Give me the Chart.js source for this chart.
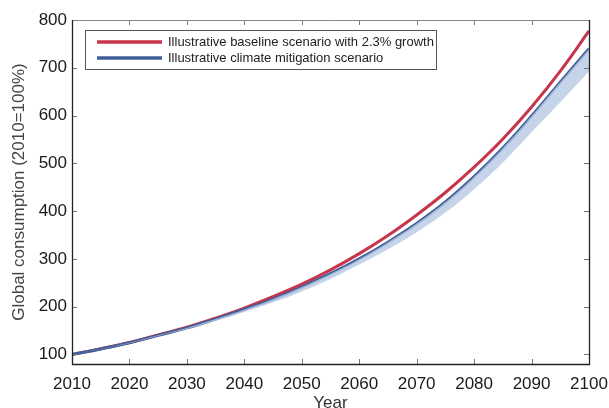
<!DOCTYPE html>
<html>
<head>
<meta charset="utf-8">
<script src="https://cdn.jsdelivr.net/npm/chart.js@4.4.1/dist/chart.umd.min.js"></script>
<style>
  html, body { margin: 0; padding: 0; background: #fff; overflow: hidden; }
  #wrap { width: 609px; height: 408px; }
</style>
</head>
<body>
<div id="wrap"><canvas id="consumo"></canvas></div>
<script>
// years every 5 years, consumption indexed to 2010 = 100
const years = [2010,2015,2020,2025,2030,2035,2040,2045,2050,2055,2060,2065,2070,2075,2080,2085,2090,2095,2100];
const baseline = [100,112,125,141,157,176,197,221,247,277,311,349,392,439,492,551,618,693,777];
const mitigation = [100,111.5,124.5,140,155.5,174,194,216,241,269,300,335,374,419,472,532,599,670,740];
const mitigationLow = [100,111,123.5,138.5,153,170.5,189,209,232,258,288,320,356,397,446,502,565,628,692];
const yTicks = [100,200,300,400,500,600,700,800];
const xTicks = [2010,2020,2030,2040,2050,2060,2070,2080,2090,2100];

const pts = arr => years.map((y, i) => ({x: y, y: arr[i]}));
const FONT = '"Liberation Sans", Arial, sans-serif';

// MATLAB style box with inward ticks, plus a legend inside the plot
const frame = {
  id: 'frame',
  afterDatasetsDraw(chart) {
    const {ctx, chartArea: a, scales} = chart;
    ctx.save();
    ctx.lineWidth = 1;
    ctx.strokeStyle = '#777';
    xTicks.forEach(v => {
      const px = Math.round(scales.x.getPixelForValue(v)) + 0.5;
      ctx.beginPath();
      ctx.moveTo(px, a.bottom); ctx.lineTo(px, a.bottom - 5);
      ctx.moveTo(px, a.top); ctx.lineTo(px, a.top + 5);
      ctx.stroke();
    });
    yTicks.forEach(v => {
      const py = Math.round(scales.y.getPixelForValue(v)) + 0.5;
      ctx.beginPath();
      ctx.moveTo(a.left, py); ctx.lineTo(a.left + 5, py);
      ctx.moveTo(a.right, py); ctx.lineTo(a.right - 5, py);
      ctx.stroke();
    });
    ctx.strokeStyle = '#888';
    ctx.beginPath();
    ctx.moveTo(a.left, a.top + 0.5); ctx.lineTo(a.right, a.top + 0.5);
    ctx.stroke();
    ctx.strokeStyle = '#222';
    ctx.lineWidth = 1.3;
    ctx.beginPath();
    ctx.moveTo(a.left + 0.5, a.top); ctx.lineTo(a.left + 0.5, a.bottom + 0.5);
    ctx.lineTo(a.right + 0.5, a.bottom + 0.5); ctx.lineTo(a.right + 0.5, a.top);
    ctx.stroke();

    // legend
    const lx = a.left + 13, ly = a.top + 10, lw = 351, lh = 39;
    ctx.fillStyle = '#fff';
    ctx.fillRect(lx, ly, lw, lh);
    ctx.strokeStyle = '#555';
    ctx.lineWidth = 1;
    ctx.strokeRect(lx + 0.5, ly + 0.5, lw, lh);
    ctx.font = '13px ' + FONT;
    ctx.textBaseline = 'middle';
    const items = [chart.data.datasets[2], chart.data.datasets[1]];
    items.forEach((ds, i) => {
      const cy = ly + 12 + i * 16;
      ctx.strokeStyle = ds.borderColor;
      ctx.lineWidth = 3.5;
      ctx.beginPath();
      ctx.moveTo(lx + 12, cy); ctx.lineTo(lx + 77, cy);
      ctx.stroke();
      ctx.fillStyle = '#222';
      ctx.fillText(ds.label, lx + 83, cy);
    });
    ctx.restore();
  }
};

new Chart(document.getElementById('consumo'), {
  type: 'line',
  data: {
    datasets: [
      {
        label: 'range',
        data: pts(mitigationLow),
        borderWidth: 0,
        pointRadius: 0,
        backgroundColor: 'rgba(184,201,227,0.8)',
        fill: '+1',
        tension: 0.4
      },
      {
        label: 'Illustrative climate mitigation scenario',
        data: pts(mitigation),
        borderColor: '#3f5d98',
        borderWidth: 3,
        pointRadius: 0,
        fill: false,
        tension: 0.4
      },
      {
        label: 'Illustrative baseline scenario with 2.3% growth',
        data: pts(baseline),
        borderColor: '#c7354a',
        borderWidth: 3,
        pointRadius: 0,
        fill: false,
        tension: 0.4
      }
    ]
  },
  options: {
    responsive: true,
    maintainAspectRatio: false,
    animation: false,
    layout: { padding: { top: 20, right: 0, left: 0, bottom: 0 } },
    plugins: { legend: { display: false }, tooltip: { enabled: false } },
    scales: {
      x: {
        type: 'linear',
        min: 2010,
        max: 2100,
        afterBuildTicks: s => { s.ticks = xTicks.map(v => ({value: v})); },
        afterFit: s => { s.height = 44; s.paddingLeft = 0; s.paddingRight = 20; },
        grid: { display: false, tickLength: 0 },
        border: { display: false },
        ticks: {
          color: '#1a1a1a',
          padding: 10,
          maxRotation: 0,
          autoSkip: false,
          font: { family: FONT, size: 17 },
          callback: v => String(v)
        },
        title: {
          display: true,
          text: 'Year',
          color: '#333',
          padding: { top: 0, bottom: -6 },
          font: { family: FONT, size: 17 }
        }
      },
      y: {
        min: 80,
        max: 800,
        afterBuildTicks: s => { s.ticks = yTicks.map(v => ({value: v})); },
        afterFit: s => { s.width = 72; },
        grid: { display: false, tickLength: 0 },
        border: { display: false },
        ticks: {
          color: '#1a1a1a',
          padding: 5,
          font: { family: FONT, size: 17 }
        },
        title: {
          display: true,
          text: 'Global consumption (2010=100%)',
          color: '#444',
          padding: { top: 9, bottom: 0 },
          font: { family: FONT, size: 17 }
        }
      }
    }
  },
  plugins: [frame]
});
</script>
</body>
</html>
